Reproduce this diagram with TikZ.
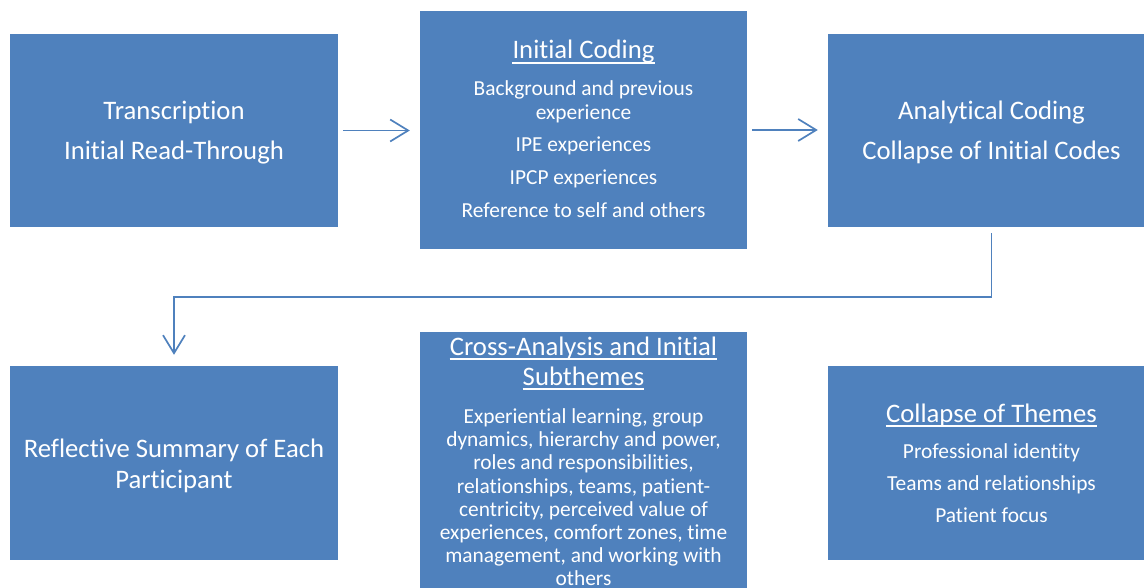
\documentclass[tikz,border=0pt]{standalone}
\usepackage{fontspec}
\setmainfont{Carlito}[Ligatures={NoCommon}]
\usetikzlibrary{arrows.meta}
\definecolor{boxblue}{HTML}{4F81BD}
\begin{document}
\begin{tikzpicture}[x=1pt,y=-1pt,
  box/.style={fill=boxblue, draw=none, inner sep=0pt},
  txt/.style={text=white, inner sep=0pt, anchor=base},
  big/.style={txt, font=\fontsize{26.7}{31}\selectfont},
  small/.style={txt, font=\fontsize{21.4}{25}\selectfont},
  conn/.style={draw=boxblue, line width=1.7pt, -{Straight Barb[length=18pt,width=22pt]}},
  uline/.style={draw=white, line width=1.4pt}]
\clip (0,0) rectangle (1144,588);
% boxes
\node[box, minimum width=328pt, minimum height=193pt] (b1) at (174,130.5) {};
\node[box, minimum width=327pt, minimum height=238pt] (b2) at (583.5,130) {};
\node[box, minimum width=327pt, minimum height=193pt] (b3) at (991.5,130.5) {};
\node[box, minimum width=328pt, minimum height=194pt] (b4) at (174,463) {};
\node[box, minimum width=327pt, minimum height=278pt] (b5) at (583.5,471) {};
\node[box, minimum width=327pt, minimum height=194pt] (b6) at (991.5,463) {};
% box 1
\node[big] (t1a) at (174,119.5) {Transcription};
\node[big] (t1b) at (174,159.5) {Initial Read-Through};
% box 2
\node[big] (h2) at (583.5,59) {Initial Coding};
\draw[uline] ([yshift=-4pt]h2.base west) -- ([yshift=-4pt]h2.base east);
\node[small] (t2a) at (583.5,96) {Background and previous};
\node[small] (t2b) at (583.5,120) {experience};
\node[small] (t2c) at (583.5,152) {IPE experiences};
\node[small] (t2d) at (583.5,185) {IPCP experiences};
\node[small] (t2e) at (583.5,218) {Reference to self and others};
% box 3
\node[big] (t3a) at (991.5,119.5) {Analytical Coding};
\node[big] (t3b) at (991.5,159.5) {Collapse of Initial Codes};
% box 4
\node[big] (t4a) at (174,457) {Reflective Summary of Each};
\node[big] (t4b) at (174,488) {Participant};
% box 5
\node[big] (h5a) at (583.5,355) {Cross-Analysis and Initial};
\draw[uline] ([yshift=-4pt]h5a.base west) -- ([yshift=-4pt]h5a.base east);
\node[big] (h5b) at (583.5,385) {Subthemes};
\draw[uline] ([yshift=-4pt]h5b.base west) -- ([yshift=-4pt]h5b.base east);
\node[small] (t5a) at (583.5,423.5) {Experiential learning, group};
\node[small] (t5b) at (583.5,446.7) {dynamics, hierarchy and power,};
\node[small] (t5c) at (583.5,469.9) {roles and responsibilities,};
\node[small] (t5d) at (583.5,493.1) {relationships, teams, patient-};
\node[small] (t5e) at (583.5,516.3) {centricity, perceived value of};
\node[small] (t5f) at (583.5,539.5) {experiences, comfort zones, time};
\node[small] (t5g) at (583.5,562.7) {management, and working with};
\node[small] (t5h) at (583.5,585.9) {others};
% box 6
\node[big] (h6) at (991.5,422) {Collapse of Themes};
\draw[uline] ([yshift=-4pt]h6.base west) -- ([yshift=-4pt]h6.base east);
\node[small] (t6a) at (991.5,458) {Professional identity};
\node[small] (t6b) at (991.5,490) {Teams and relationships};
\node[small] (t6c) at (991.5,522) {Patient focus};
% connectors
\draw[conn, shorten <=5pt, shorten >=10pt] (b1.east) -- (b1.east -| b2.west);
\draw[conn, shorten <=5pt, shorten >=10pt] (b2.east) -- (b2.east -| b3.west);
\draw[conn, shorten <=6pt, shorten >=11pt] (b3.south) -- ++(0,70) -| (b4.north);
\end{tikzpicture}
\end{document}
